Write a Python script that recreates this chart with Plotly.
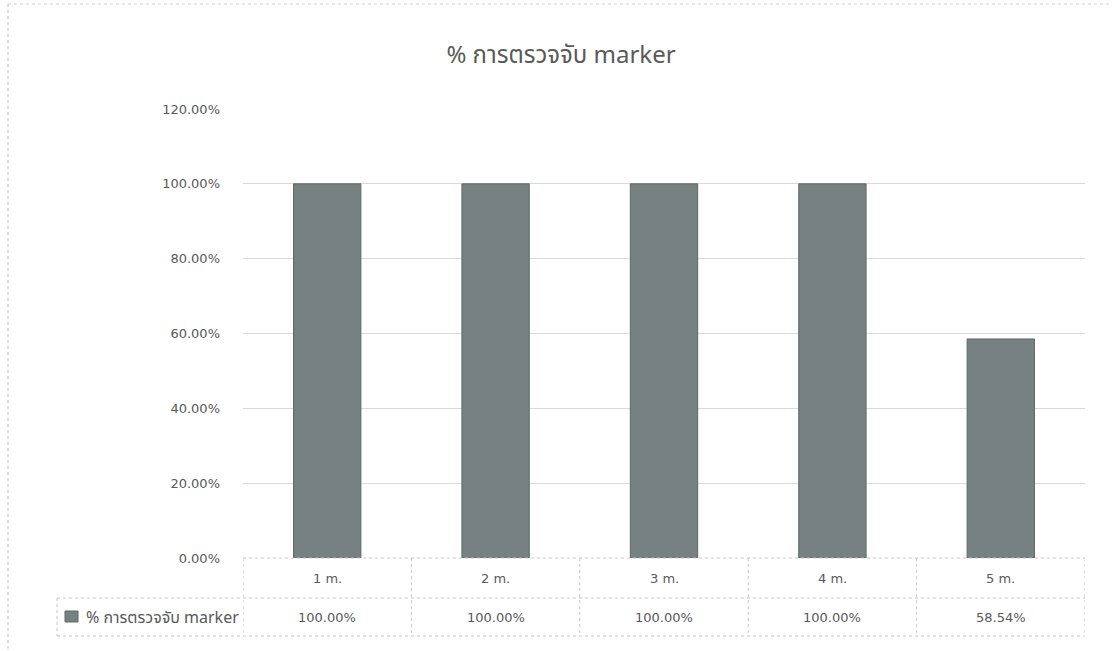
import plotly.graph_objects as go

categories = ["1 m.", "2 m.", "3 m.", "4 m.", "5 m."]
values = [1.0, 1.0, 1.0, 1.0, 0.5854]
series_name = "% การตรวจจับ marker"
title_text = "% การตรวจจับ marker"
y_ticks = [0, 0.2, 0.4, 0.6, 0.8, 1.0, 1.2]

W, H = 1115, 651
L, R, T, B = 243, 1085, 109, 558
PW, PH = R - L, B - T

def px_x(p):
    return (p - L) / PW

def px_y(p):
    return (B - p) / PH

FONT = "Noto Sans, Noto Sans Thai, DejaVu Sans, sans-serif"
NUMFONT = "DejaVu Sans, Noto Sans, sans-serif"
TXT = "#595959"
LINE = "#c8c8c8"
BAR = "#778181"

fig = go.Figure()
fig.add_trace(go.Bar(
    x=list(range(len(categories))), y=values, name=series_name,
    marker=dict(color=BAR, line=dict(color="#5f6868", width=1)),
    width=0.4, showlegend=False,
))

shapes = []
shapes.append(dict(type="line", xref="paper", yref="paper", x0=0, x1=1, y0=0, y1=0,
                   line=dict(color=LINE, width=1, dash="dot")))
for yp in (598, 636):
    shapes.append(dict(type="line", xref="paper", yref="paper", x0=px_x(57), x1=1,
                       y0=px_y(yp), y1=px_y(yp), line=dict(color=LINE, width=1, dash="dot")))
for i in range(len(categories) + 1):
    shapes.append(dict(type="line", xref="x", yref="paper", x0=i - 0.5, x1=i - 0.5,
                       y0=0, y1=px_y(636), line=dict(color=LINE, width=1, dash="dot")))
shapes.append(dict(type="line", xref="paper", yref="paper", x0=px_x(57), x1=px_x(57),
                   y0=px_y(598), y1=px_y(636), line=dict(color=LINE, width=1, dash="dot")))
shapes.append(dict(type="rect", xref="paper", yref="paper", x0=px_x(65), x1=px_x(78),
                   y0=px_y(611), y1=px_y(622), fillcolor=BAR, line=dict(color="#5f6868", width=1)))
shapes.append(dict(type="line", xref="paper", yref="paper", x0=px_x(8), x1=px_x(8),
                   y0=px_y(4), y1=px_y(651), line=dict(color="#bdbdbd", width=1, dash="dot")))
shapes.append(dict(type="line", xref="paper", yref="paper", x0=px_x(8), x1=px_x(1112),
                   y0=px_y(4), y1=px_y(4), line=dict(color="#d0d0d0", width=1, dash="dot")))

annotations = []
for i, c in enumerate(categories):
    annotations.append(dict(x=i, y=px_y(578), xref="x", yref="paper", text=c, showarrow=False,
                            yanchor="middle", xanchor="center",
                            font=dict(family=NUMFONT, size=13, color=TXT)))
    annotations.append(dict(x=i, y=px_y(617), xref="x", yref="paper", text=f"{values[i]*100:.2f}%",
                            showarrow=False, yanchor="middle", xanchor="center",
                            font=dict(family=NUMFONT, size=13, color=TXT)))
annotations.append(dict(x=px_x(84), y=px_y(617), xref="paper", yref="paper", text=series_name,
                        xanchor="left", yanchor="middle", showarrow=False,
                        font=dict(family=FONT, size=16, color=TXT)))

fig.update_layout(
    width=W, height=H,
    margin=dict(l=L, r=W - R, t=T, b=H - B, pad=0),
    paper_bgcolor="white", plot_bgcolor="white",
    title=dict(text=title_text, x=561 / W, xref="container", xanchor="center",
               y=1 - 55 / H, yref="container", yanchor="middle",
               font=dict(family=FONT, size=24, color=TXT)),
    xaxis=dict(range=[-0.5, len(categories) - 0.5], showticklabels=False, showgrid=False,
               zeroline=False, showline=False, ticks=""),
    yaxis=dict(range=[0, 1.2], tickvals=y_ticks, tickformat=".2%", showgrid=True,
               gridcolor="#d9d9d9", gridwidth=1, zeroline=False, showline=False,
               ticklabelstandoff=22, tickfont=dict(family=NUMFONT, size=13, color=TXT)),
    shapes=shapes, annotations=annotations, bargap=0.6,
)

fig.write_html("out.html")
